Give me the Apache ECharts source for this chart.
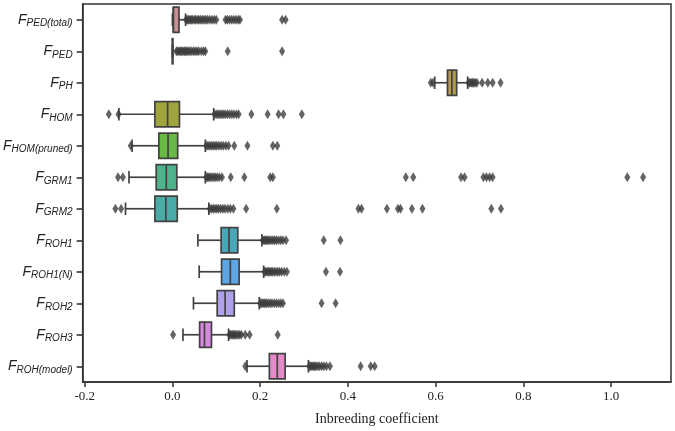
<!DOCTYPE html>
<html>
<head>
    <meta charset="utf-8">
    <title>Inbreeding coefficient</title>
    <script src="https://cdn.jsdelivr.net/npm/echarts@6/dist/echarts.min.js"></script>
    <style>
        body { margin: 0; background: #fff; }
        #main { width: 675px; height: 431px; }
    </style>
</head>
<body>
<div id="main"></div>
<script type="text/javascript">
  // estimator names, "F_" + subscript
  var categories = ['F_PED(total)', 'F_PED', 'F_PH', 'F_HOM', 'F_HOM(pruned)', 'F_GRM1',
                    'F_GRM2', 'F_ROH1', 'F_ROH1(N)', 'F_ROH2', 'F_ROH3', 'F_ROH(model)'];
  // [whisker low, Q1, median, Q3, whisker high]
  var boxStats = [
    [0.000, 0.002, 0.002, 0.015, 0.030],
    [0.000, 0.000, 0.000, 0.001, 0.001],
    [0.598, 0.627, 0.637, 0.648, 0.673],
    [-0.122, -0.040, -0.011, 0.016, 0.094],
    [-0.092, -0.031, -0.010, 0.012, 0.075],
    [-0.099, -0.037, -0.014, 0.010, 0.075],
    [-0.107, -0.040, -0.015, 0.011, 0.083],
    [0.058, 0.111, 0.129, 0.149, 0.204],
    [0.061, 0.112, 0.132, 0.152, 0.208],
    [0.048, 0.102, 0.120, 0.141, 0.198],
    [0.024, 0.062, 0.073, 0.089, 0.128],
    [0.170, 0.221, 0.239, 0.257, 0.310]
  ];
  // outliers per estimator
  var outliers = [
    [0.031, 0.034, 0.037, 0.040, 0.043, 0.046, 0.050, 0.053, 0.057, 0.060, 0.064, 0.068, 0.072,
     0.076, 0.080, 0.085, 0.090, 0.095, 0.100, 0.121, 0.125, 0.130, 0.135, 0.140, 0.145, 0.150,
     0.154, 0.250, 0.258],
    [0.009, 0.012, 0.015, 0.018, 0.021, 0.024, 0.027, 0.030, 0.033, 0.036, 0.040, 0.044, 0.048,
     0.052, 0.056, 0.060, 0.066, 0.071, 0.075, 0.126, 0.250],
    [0.589, 0.594, 0.675, 0.678, 0.681, 0.684, 0.687, 0.690, 0.694, 0.706, 0.719, 0.730, 0.748],
    [-0.145, -0.123, 0.096, 0.100, 0.104, 0.108, 0.112, 0.116, 0.120, 0.125, 0.130, 0.135, 0.140,
     0.146, 0.151, 0.180, 0.217, 0.242, 0.253, 0.295],
    [-0.095, 0.077, 0.081, 0.085, 0.089, 0.093, 0.097, 0.101, 0.106, 0.111, 0.116, 0.122, 0.128,
     0.141, 0.171, 0.229, 0.239],
    [-0.124, -0.113, 0.077, 0.080, 0.083, 0.086, 0.090, 0.094, 0.098, 0.102, 0.107, 0.113, 0.133,
     0.164, 0.223, 0.229, 0.532, 0.549, 0.658, 0.666, 0.709, 0.716, 0.723, 0.730, 1.037, 1.073],
    [-0.130, -0.117, 0.085, 0.089, 0.093, 0.097, 0.101, 0.105, 0.110, 0.115, 0.120, 0.126, 0.132,
     0.139, 0.168, 0.238, 0.424, 0.431, 0.489, 0.514, 0.520, 0.546, 0.570, 0.727, 0.749],
    [0.206, 0.209, 0.212, 0.215, 0.218, 0.221, 0.225, 0.229, 0.233, 0.237, 0.242, 0.247, 0.252,
     0.259, 0.345, 0.383],
    [0.210, 0.213, 0.216, 0.219, 0.222, 0.225, 0.228, 0.232, 0.236, 0.240, 0.244, 0.249, 0.255,
     0.261, 0.350, 0.382],
    [0.200, 0.203, 0.206, 0.209, 0.212, 0.215, 0.219, 0.223, 0.227, 0.232, 0.237, 0.242, 0.247,
     0.252, 0.340, 0.372],
    [0.0015, 0.130, 0.133, 0.136, 0.139, 0.142, 0.145, 0.149, 0.153, 0.157, 0.166, 0.176, 0.240],
    [0.166, 0.312, 0.315, 0.318, 0.321, 0.324, 0.327, 0.331, 0.335, 0.340, 0.345, 0.351, 0.359,
     0.429, 0.452, 0.461]
  ];
  var xTicks = [-0.2, 0.0, 0.2, 0.4, 0.6, 0.8, 1.0];

  // box fills, one per estimator
  var palette = ['#c98d97', '#cf8b50', '#b39a4f', '#a0a43f', '#6ab845', '#4cb38a',
                 '#4aaba6', '#48a8ba', '#5ea6e3', '#b0a0ec', '#d589df', '#e689c8'];
  var lineCol = '#424242';

  var myChart = echarts.init(document.getElementById('main'));

  var boxData = boxStats.map(function (s, i) { return [i].concat(s); });
  var flierData = [];
  outliers.forEach(function (vals, i) {
    vals.forEach(function (v) { flierData.push([v, i]); });
  });

  function renderBox(params, api) {
    var cat = api.value(0);
    var h = api.size([0, 1])[1] * 0.8;
    var p = [1, 2, 3, 4, 5].map(function (d) { return api.coord([api.value(d), cat]); });
    var yc = p[0][1];
    var ls = { stroke: lineCol, lineWidth: 1.7 };
    return {
      type: 'group',
      children: [
        { type: 'line', shape: { x1: p[0][0], y1: yc, x2: p[1][0], y2: yc }, style: ls },
        { type: 'line', shape: { x1: p[3][0], y1: yc, x2: p[4][0], y2: yc }, style: ls },
        { type: 'line', shape: { x1: p[0][0], y1: yc - h / 4, x2: p[0][0], y2: yc + h / 4 }, style: ls },
        { type: 'line', shape: { x1: p[4][0], y1: yc - h / 4, x2: p[4][0], y2: yc + h / 4 }, style: ls },
        { type: 'rect', shape: { x: p[1][0], y: yc - h / 2, width: p[3][0] - p[1][0], height: h },
          style: { fill: palette[params.dataIndex], stroke: lineCol, lineWidth: 1.7 } },
        { type: 'line', shape: { x1: p[2][0], y1: yc - h / 2, x2: p[2][0], y2: yc + h / 2 }, style: ls }
      ]
    };
  }

  var option = {
    animation: false,
    grid: {
      left: 82, right: 4, top: 4, bottom: 44,
      show: true, borderColor: '#333', borderWidth: 1.5
    },
    xAxis: {
      type: 'value',
      min: -0.2046,
      max: 1.1366,
      splitLine: { show: false },
      axisLine: { show: true, onZero: false, lineStyle: { color: '#333', width: 1.5 } },
      axisTick: { show: true, customValues: xTicks, length: 5, lineStyle: { color: '#333', width: 1.5 } },
      axisLabel: {
        customValues: xTicks,
        formatter: function (v) { return v.toFixed(1); },
        fontFamily: 'Liberation Serif', fontSize: 13, color: '#222', margin: 8
      },
      name: 'Inbreeding coefficient',
      nameLocation: 'middle',
      nameGap: 30,
      nameTextStyle: { fontFamily: 'Liberation Serif', fontSize: 14, color: '#222' }
    },
    yAxis: {
      type: 'category',
      data: categories,
      inverse: true,
      axisLine: { show: true, onZero: false, lineStyle: { color: '#333', width: 1.5 } },
      axisTick: { show: true, alignWithLabel: true, length: 6, lineStyle: { color: '#333', width: 1.6 } },
      axisLabel: {
        margin: 10,
        formatter: function (v) {
          var parts = v.split('_');
          return '{f|' + parts[0] + '}{s|' + parts[1] + '}';
        },
        rich: {
          f: { fontFamily: 'Liberation Sans', fontStyle: 'italic', fontSize: 14, color: '#222' },
          s: { fontFamily: 'Liberation Sans', fontStyle: 'italic', fontSize: 10, color: '#222',
               padding: [7, 0, 0, 0] }
        }
      }
    },
    series: [
      {
        type: 'custom',
        renderItem: renderBox,
        encode: { x: [1, 2, 3, 4, 5], y: 0 },
        data: boxData,
        z: 2
      },
      {
        type: 'scatter',
        symbol: 'diamond',
        symbolSize: [6, 10],
        itemStyle: { color: '#3d3d3d' },
        data: flierData,
        z: 3
      }
    ]
  };
  myChart.setOption(option);
</script>
</body>
</html>
